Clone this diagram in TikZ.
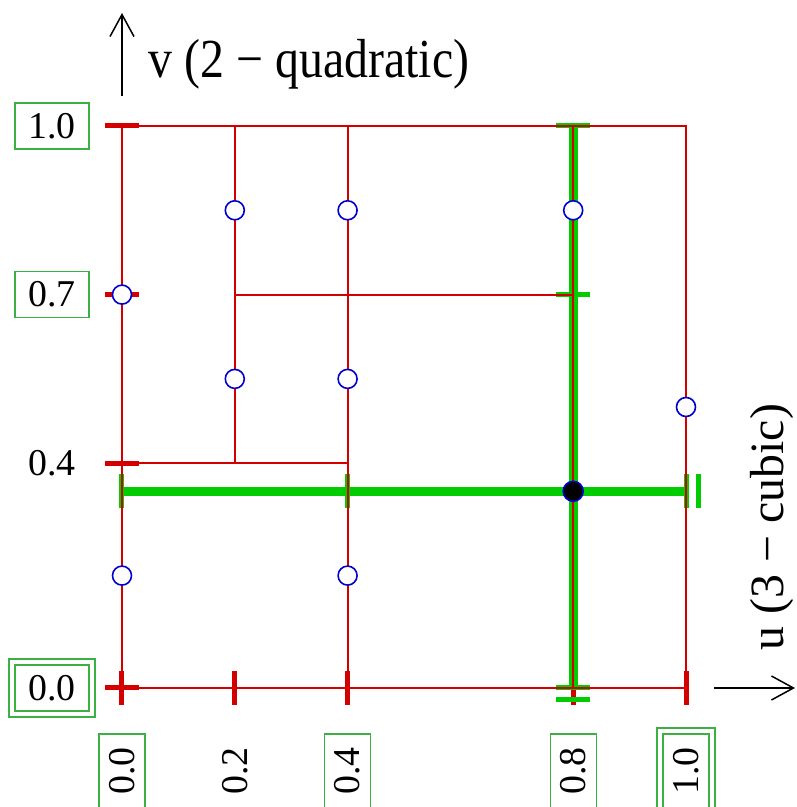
\documentclass[tikz,border=0pt]{standalone}
\usepackage{fontspec}
\setmainfont{Liberation Serif}
\usetikzlibrary{arrows.meta}
\definecolor{vred}{HTML}{D40000}
\definecolor{vgreen}{HTML}{00CC00}
\definecolor{vframe}{HTML}{3CB043}
\definecolor{vblue}{HTML}{0000D0}
\tikzset{
  rline/.style={draw=vred, line width=2bp},
  rtick/.style={draw=vred, line width=5bp},
  gline/.style={draw=vgreen, line width=9bp},
  gbar/.style={draw=vgreen, line width=5bp},
  knot/.style={circle, draw=vblue, fill=white, line width=1.6bp, minimum size=19bp, inner sep=0pt},
  knotfill/.style={knot, fill=black, minimum size=20bp},
  tlab/.style={inner sep=0pt, minimum width=74bp, minimum height=46bp, font=\fontsize{38}{40}\selectfont},
  tbox/.style={tlab, draw=vframe, line width=1.2bp},
  tdbox/.style={tbox, double=white, double distance=4.8bp, minimum width=80bp, minimum height=52bp},
  axlab/.style={inner sep=0pt, font=\fontsize{48}{50}\selectfont},
  axis/.style={-{Straight Barb[length=22bp, width=24bp, line width=1.5bp]}, line width=1.5bp}
}

\begin{document}
\begin{tikzpicture}[x=564bp, y=562bp]
  \useasboundingbox (-0.21631,-0.21174) rectangle (1.19681,1.22420);

  % red ticks (under the green lines)
  \draw[rtick] (0,0) ++(0,-17bp) -- ++(0,34bp);
  \draw[rtick] (0.2,0) ++(0,-17bp) -- ++(0,34bp);
  \draw[rtick] (0.4,0) ++(0,-17bp) -- ++(0,34bp);
  \draw[rtick] (0.8,0) ++(0,-17bp) -- ++(0,34bp);
  \draw[rtick] (1,0) ++(0,-17bp) -- ++(0,34bp);
  \draw[rtick] (0,0) ++(-17bp,0) -- ++(34bp,0);
  \draw[rtick] (0,0.4) ++(-17bp,0) -- ++(34bp,0);
  \draw[rtick] (0,0.7) ++(-17bp,0) -- ++(34bp,0);
  \draw[rtick] (0,1) ++(-17bp,0) -- ++(34bp,0);

  % green lines through the point
  \draw[gline] (0,0.35) -- (1,0.35);
  \draw[gline] (0.8,0) -- (0.8,1);
  \draw[gbar] (0,0.35) ++(0,-17bp) -- ++(0,34bp);
  \draw[gbar] (0.4,0.35) ++(0,-17bp) -- ++(0,34bp);
  \draw[gbar] (1,0.35) ++(0,-17bp) -- ++(0,34bp);
  \draw[gbar] (1,0.35) ++(12bp,-17bp) -- ++(0,34bp);
  \draw[gbar] (0.8,1) ++(-17bp,0) -- ++(34bp,0);
  \draw[gbar] (0.8,0.7) ++(-17bp,0) -- ++(34bp,0);
  \draw[gbar] (0.8,0) ++(-17bp,0) -- ++(34bp,0);
  \draw[gbar] (0.8,0) ++(-17bp,-12bp) -- ++(34bp,0);

  % red knot lines
  \draw[rline] (0,0) rectangle (1,1);
  \draw[rline] (0.2,0.4) -- (0.2,1);
  \draw[rline] (0.4,0) -- (0.4,1);
  \draw[rline] (0.8,0) -- (0.8,1);
  \draw[rline] (0,0.4) -- (0.4,0.4);
  \draw[rline] (0.2,0.7) -- (0.8,0.7);

  % control points
  \node[knot] (c1) at (0,0.7) {};
  \node[knot] (c2) at (0,0.2) {};
  \node[knot] (c3) at (0.2,0.85) {};
  \node[knot] (c4) at (0.2,0.55) {};
  \node[knot] (c5) at (0.4,0.85) {};
  \node[knot] (c6) at (0.4,0.55) {};
  \node[knot] (c7) at (0.4,0.2) {};
  \node[knot] (c8) at (0.8,0.85) {};
  \node[knot] (c9) at (1,0.5) {};
  \node[knotfill] (pt) at (0.8,0.35) {};

  % v labels
  \node[tbox] (v10) at ([xshift=-70bp]0,1) {1.0};
  \node[tbox] (v07) at ([xshift=-70bp]0,0.7) {0.7};
  \node[tlab] (v04) at ([xshift=-70bp]0,0.4) {0.4};
  \node[tdbox] (v00) at ([xshift=-70bp]0,0) {0.0};

  % u labels
  \node[tbox, rotate=90] (u00) at ([yshift=-83bp]0,0) {0.0};
  \node[tlab, rotate=90] (u02) at ([yshift=-83bp]0.2,0) {0.2};
  \node[tbox, rotate=90] (u04) at ([yshift=-83bp]0.4,0) {0.4};
  \node[tbox, rotate=90] (u08) at ([yshift=-83bp]0.8,0) {0.8};
  \node[tdbox, rotate=90] (u10) at ([yshift=-83bp]1,0) {1.0};

  % axes
  \coordinate (vtail) at ([yshift=30bp]0,1);
  \coordinate (vtip) at ([yshift=113bp]0,1);
  \coordinate (utail) at ([xshift=28bp]1,0);
  \coordinate (utip) at ([xshift=109bp]1,0);
  \draw[axis] (vtail) -- (vtip);
  \draw[axis] (utail) -- (utip);
  \node[axlab, yscale=1.15, transform shape] (vname) at (0.3316,1.1103) {v (2 − quadratic)};
  \node[axlab, rotate=90] (uname) at ([xshift=86bp]1,0.2865) {u (3 − cubic)};
\end{tikzpicture}
\end{document}
